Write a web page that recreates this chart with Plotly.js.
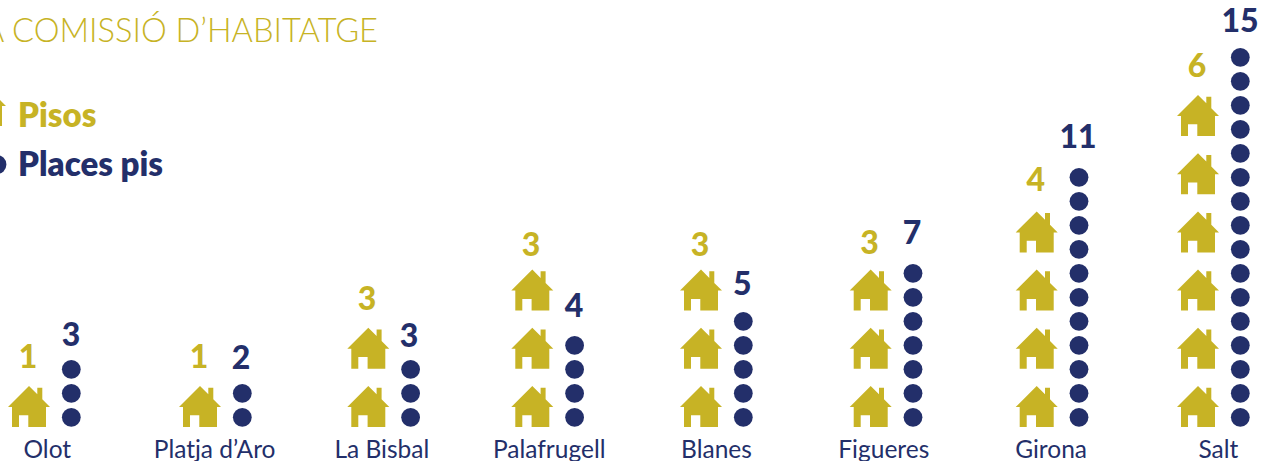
<!DOCTYPE html>
<html>
<head>
<meta charset="utf-8">
<script src="https://cdn.plot.ly/plotly-3.0.1.min.js"></script>
<style>html,body{margin:0;padding:0;background:#fff;overflow:hidden}#c{width:1271px;height:461px}</style>
</head>
<body>
<div id="c"></div>
<script>
// ---- data ----
var categories = ["Olot", "Platja d\u2019Aro", "La Bisbal", "Palafrugell", "Blanes", "Figueres", "Girona", "Salt"];
var pisos = [1, 1, 3, 3, 3, 3, 4, 6];          // printed value
var places = [3, 2, 3, 4, 5, 7, 11, 15];       // printed value
var housesDrawn = [1, 1, 2, 3, 3, 3, 4, 6];    // icons in the picture
var dotsDrawn = [3, 2, 3, 4, 5, 7, 11, 16];    // icons in the picture
var titleText = "A COMISSI\u00d3 D\u2019HABITATGE";
var legendPisos = "Pisos";
var legendPlaces = "Places pis";

// ---- layout constants (pixels) ----
var W = 1271, H = 461, BOTTOM = 30;
var TICK0 = 47.3, TICKSTEP = 167.3, DOT0 = 417.3, DOTSTEP = 24, HOUSE0 = 386, HOUSESTEP = 58.2, DOTGAP = 42.3;
var houseCentre = [29, 200, 368.3, 532.3, 701, 870.7, 1036.7, 1198];
var pisosLabelX = [28, 199, 367, 531, 700, 869.5, 1035.7, 1197];
var pisosLabelY = [360, 360, 302, 248, 248, 246, 183, 69];
var placesLabelX = [71, 241, 409, 574, 742.3, 912, 1078, 1240];
var placesLabelY = [338, 361, 339, 309, 287, 236, 140, 24];
var GOLD = "#c7b325", NAVY = "#232f6a";
var FONT = "Lato, 'Open Sans', sans-serif";
// house outline, pixel offsets from the apex
var houseX = [0, 8.3, 8.3, 13.3, 13.3, 21, 17, 17, -0.7, -0.7, -10, -10, -17, -17, -21, 0];
var houseY = [0, 8.3, 1.7, 1.7, 13.3, 21, 21, 41, 41, 29.3, 29.3, 41, 41, 21, 21, 0];

function dx(p) { return (p - TICK0) / TICKSTEP; }
function dy(p) { return (DOT0 - p) / DOTSTEP; }

var hx = [], hy = [], px = [], py = [];
categories.forEach(function (c, i) {
  for (var h = 0; h < housesDrawn[i]; h++) {
    var top = HOUSE0 - h * HOUSESTEP;
    houseX.forEach(function (v, k) {
      hx.push(dx(houseCentre[i] + v));
      hy.push(dy(top + houseY[k]));
    });
    hx.push(null); hy.push(null);
  }
  for (var d = 0; d < dotsDrawn[i]; d++) {
    px.push(dx(houseCentre[i] + DOTGAP));
    py.push(d);
  }
});
// legend keys, cut by the left edge as in the picture
var keyApex = -15, keyTop = 85;
houseX.forEach(function (v, k) {
  hx.push(dx(keyApex + v));
  hy.push(dy(keyTop + houseY[k]));
});
px.push(dx(-3)); py.push(dy(164.5));

var traces = [
  { type: "scatter", mode: "lines", x: hx, y: hy, fill: "toself", fillcolor: GOLD,
    line: { width: 0, color: GOLD }, name: "Pisos", hoverinfo: "skip", showlegend: false },
  { type: "scatter", mode: "markers", x: px, y: py, name: "Places pis", hoverinfo: "skip",
    marker: { size: 18.8, color: NAVY, line: { width: 0 } }, showlegend: false },
  { type: "scatter", mode: "text", x: pisosLabelX.map(dx), y: pisosLabelY.map(dy), text: pisos.map(String),
    textposition: "middle center", textfont: { family: FONT, size: 32, weight: 900, color: GOLD },
    hoverinfo: "skip", showlegend: false },
  { type: "scatter", mode: "text", x: placesLabelX.map(dx), y: placesLabelY.map(dy), text: places.map(String),
    textposition: "middle center", textfont: { family: FONT, size: 32, weight: 900, color: NAVY },
    hoverinfo: "skip", showlegend: false }
];

var layout = {
  width: W, height: H, showlegend: false,
  margin: { l: 0, r: 0, t: 0, b: BOTTOM, pad: 0 },
  paper_bgcolor: "#fff", plot_bgcolor: "#fff",
  title: { text: titleText, x: 378 / W, xanchor: "right", xref: "paper", y: 1 - 30.5 / H, yanchor: "middle",
    font: { family: FONT, size: 32.6, weight: 300, color: GOLD } },
  xaxis: { type: "linear", range: [dx(0), dx(W)], tickmode: "array",
    tickvals: categories.map(function (c, i) { return i; }), ticktext: categories,
    showgrid: false, zeroline: false, showline: false, ticks: "", fixedrange: true, ticklabelstandoff: 1,
    tickfont: { family: FONT, size: 24.5, color: NAVY } },
  yaxis: { type: "linear", range: [dy(H - BOTTOM), dy(0)], visible: false, fixedrange: true },
  annotations: [
    { xref: "x", yref: "y", x: dx(16), y: dy(114), text: legendPisos, showarrow: false, xanchor: "left", yanchor: "middle",
      font: { family: FONT, size: 33, weight: 800, color: GOLD } },
    { xref: "x", yref: "y", x: dx(16), y: dy(163), text: legendPlaces, showarrow: false, xanchor: "left", yanchor: "middle",
      font: { family: FONT, size: 33, weight: 800, color: NAVY } }
  ]
};
Plotly.newPlot("c", traces, layout, { displayModeBar: false, staticPlot: true });
</script>
</body>
</html>
